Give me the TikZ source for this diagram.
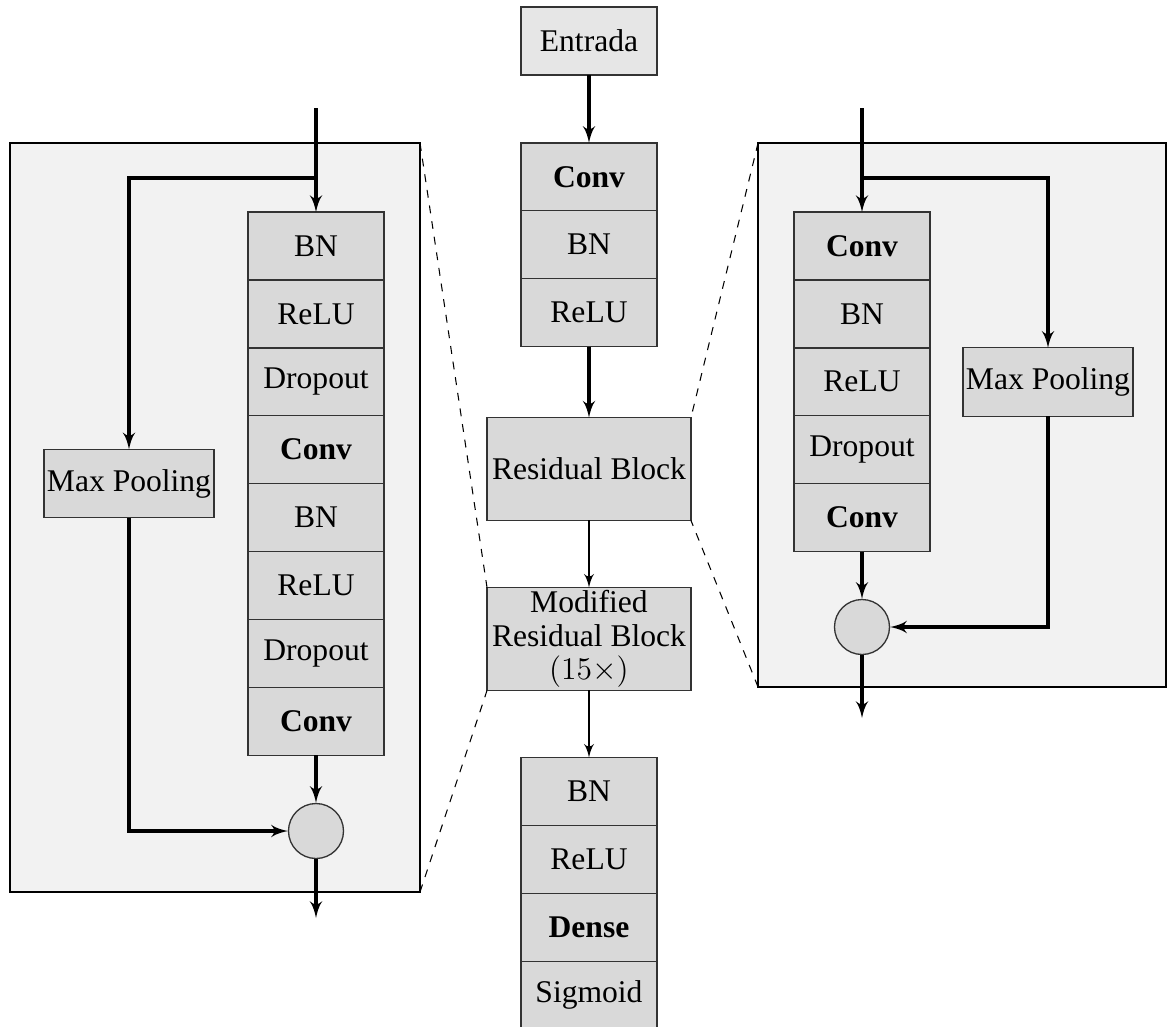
\documentclass[tikz,border=0pt,12pt]{standalone}
\usepackage{fontspec}
\setmainfont{Liberation Serif}
\usetikzlibrary{arrows,positioning}
\definecolor{cellgray}{RGB}{217,217,217}
\definecolor{ingray}{RGB}{230,230,230}
\definecolor{framegray}{RGB}{242,242,242}
\tikzset{
    %Define standard arrow tip
    >=latex',
    %Define style for layer cells
    layer/.style={
           rectangle,
           draw=black!80,
           fill=cellgray,
           line width=0.5pt,
           outer sep=0pt,
           inner sep=0pt,
           minimum width=51.7pt,
           minimum height=25.8pt,
           font=\fontsize{12}{14}\selectfont,
           text centered},
    % Define style for the two block boxes
    bigblock/.style={
           layer,
           minimum width=77.5pt,
           minimum height=39.1pt,
           align=center,
           font=\fontsize{12}{12.7}\selectfont},
    pool/.style={
           layer,
           minimum width=64.6pt,
           minimum height=26pt},
    sumnode/.style={
           circle,
           draw=black!80,
           fill=cellgray,
           line width=0.5pt,
           minimum size=20.9pt,
           inner sep=0pt},
    zoombox/.style={
           rectangle,
           draw=black,
           fill=framegray,
           line width=0.8pt,
           outer sep=0pt},
    % Define arrow styles
    pil/.style={
           ->,
           line width=1.2pt},
    tynnpil/.style={
           ->,
           line width=0.8pt},
    zoomline/.style={
           dashed,
           line width=0.4pt}
}
\begin{document}
\begin{tikzpicture}[x=0.38pt, y=-0.38pt, node distance=0pt]
  \useasboundingbox (0,0) rectangle (1167,1026);
  % frames of the two detailed blocks
  \node[zoombox, minimum width=155.8pt, minimum height=284.6pt] (leftbox) at (215,517.5) {};
  \node[zoombox, minimum width=155pt, minimum height=206.7pt] (rightbox) at (962,415) {};

  % main network
  \node[layer, fill=ingray] (entrada) at (589,41) {Entrada};
  \node[layer, below=25.8pt of entrada] (conv0) {\textbf{Conv}};
  \node[layer, below=of conv0] (bn0) {BN};
  \node[layer, below=of bn0] (relu0) {ReLU};
  \node[bigblock, below=27pt of relu0] (resblock) {Residual Block};
  \node[bigblock, below=25.5pt of resblock] (modblock) {Modified\\Residual Block\\$(15\times)$};
  \node[layer, below=25.5pt of modblock] (bn9) {BN};
  \node[layer, below=of bn9] (relu9) {ReLU};
  \node[layer, below=of relu9] (dense) {\textbf{Dense}};
  \node[layer, below=of dense] (sigmoid) {Sigmoid};
  \draw[pil] (entrada) -- (conv0);
  \draw[pil] (relu0) -- (resblock);
  \draw[tynnpil] (resblock) -- (modblock);
  \draw[tynnpil] (modblock) -- (bn9);

  % modified residual block (left)
  \coordinate (lin) at (316,108);
  \coordinate (lsplit) at (316,178);
  \coordinate (lout) at (316,918);
  \node[layer] (lbn1) at (316,246) {BN};
  \node[layer, below=of lbn1] (lrelu1) {ReLU};
  \node[layer, below=of lrelu1] (ldrop1) {Dropout};
  \node[layer, below=of ldrop1] (lconv1) {\textbf{Conv}};
  \node[layer, below=of lconv1] (lbn2) {BN};
  \node[layer, below=of lbn2] (lrelu2) {ReLU};
  \node[layer, below=of lrelu2] (ldrop2) {Dropout};
  \node[layer, below=of ldrop2] (lconv2) {\textbf{Conv}};
  \node[pool] (lpool) at (129,483.5) {Max Pooling};
  \node[sumnode] (lsum) at (316,831) {};
  \draw[pil] (lin) -- (lbn1);
  \draw[pil] (lsplit) -| (lpool);
  \draw[pil] (lconv2) -- (lsum);
  \draw[pil] (lpool) |- (lsum);
  \draw[pil] (lsum) -- (lout);

  % residual block (right)
  \coordinate (rin) at (862,108);
  \coordinate (rsplit) at (862,178);
  \coordinate (rout) at (862,718);
  \node[layer] (rconv1) at (862,246) {\textbf{Conv}};
  \node[layer, below=of rconv1] (rbn) {BN};
  \node[layer, below=of rbn] (rrelu) {ReLU};
  \node[layer, below=of rrelu] (rdrop) {Dropout};
  \node[layer, below=of rdrop] (rconv2) {\textbf{Conv}};
  \node[pool] (rpool) at (1048,382) {Max Pooling};
  \node[sumnode] (rsum) at (862,627) {};
  \draw[pil] (rin) -- (rconv1);
  \draw[pil] (rsplit) -| (rpool);
  \draw[pil] (rconv2) -- (rsum);
  \draw[pil] (rpool) |- (rsum);
  \draw[pil] (rsum) -- (rout);

  % zoom lines
  \draw[zoomline] (leftbox.north east) -- (modblock.north west);
  \draw[zoomline] (leftbox.south east) -- (modblock.south west);
  \draw[zoomline] (rightbox.north west) -- (resblock.north east);
  \draw[zoomline] (rightbox.south west) -- (resblock.south east);
\end{tikzpicture}
\end{document}
